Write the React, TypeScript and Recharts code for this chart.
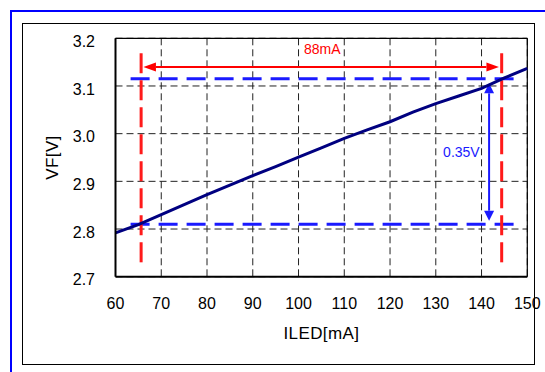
import { LineChart, Line, XAxis, YAxis, CartesianGrid, ReferenceLine, ReferenceDot } from 'recharts';

// measured forward voltage vs LED current
const currents = [60, 65, 70, 75, 80, 85, 90, 95, 100, 105, 110, 115, 120, 125, 130, 135, 140, 145, 150];
const voltages = [2.792, 2.809, 2.83, 2.851, 2.872, 2.892, 2.912, 2.931, 2.951, 2.97, 2.99, 3.008, 3.025, 3.045, 3.063, 3.079, 3.095, 3.117, 3.137];

const xTicks = [60, 70, 80, 90, 100, 110, 120, 130, 140, 150];
const yTicks = [2.7, 2.8, 2.9, 3.0, 3.1, 3.2];

// annotation positions (data units)
const currentRange = [65.6, 144.4];
const currentArrow = [66.1, 143.8];
const voltageLevels = [2.81, 3.115];
const voltageArrow = [2.8174, 3.1056];
const annotationLabels = ['88mA', '0.35V'];

const data = currents.map((c, i) => ({ iled: c, vf: voltages[i] }));

const FONT = '"Liberation Sans", Arial, sans-serif';

// line with an arrowhead on both ends
function doubleArrow(color: string, head: number, half: number) {
  return (p: any) => {
    const { x1, y1, x2, y2 } = p;
    const len = Math.hypot(x2 - x1, y2 - y1) || 1;
    const ux = (x2 - x1) / len;
    const uy = (y2 - y1) / len;
    const nx = -uy;
    const ny = ux;
    const tri = (tx: number, ty: number, dx: number, dy: number) => {
      const bx = tx - dx * head;
      const by = ty - dy * head;
      return `${tx},${ty} ${bx + nx * half},${by + ny * half} ${bx - nx * half},${by - ny * half}`;
    };
    return (
      <g>
        <line
          x1={x1 + ux * head}
          y1={y1 + uy * head}
          x2={x2 - ux * head}
          y2={y2 - uy * head}
          stroke={color}
          strokeWidth={2}
        />
        <polygon points={tri(x1, y1, -ux, -uy)} fill={color} />
        <polygon points={tri(x2, y2, ux, uy)} fill={color} />
      </g>
    );
  };
}

export default function App() {
  return (
    <div
      style={{
        position: 'absolute',
        left: 8,
        top: 8,
        width: 537,
        height: 364,
        overflow: 'hidden',
        background: '#fff',
        fontFamily: FONT,
      }}
    >
      {/* outer blue frame */}
      <div style={{ position: 'absolute', left: 2, top: 2, width: 600, height: 420, border: '2px solid #0000ff' }} />
      {/* chart area frame */}
      <div
        style={{
          position: 'absolute',
          left: 13.7,
          top: 14.7,
          width: 513.3,
          height: 342.3,
          boxSizing: 'border-box',
          border: '1.6px solid #000',
        }}
      />
      <div style={{ position: 'absolute', left: 0, top: 0 }}>
        <LineChart width={537} height={364} data={data} margin={{ top: 30.3, right: 17.7, bottom: 25.3, left: 0 }}>
          <CartesianGrid stroke="#222" strokeDasharray="7 4" strokeWidth={1} />
          <XAxis
            dataKey="iled"
            type="number"
            domain={[60, 150]}
            ticks={xTicks}
            height={70}
            tickLine={false}
            tickSize={0}
            tickMargin={21}
            axisLine={{ stroke: '#000', strokeWidth: 2 }}
            tick={{ fill: '#000', fontSize: 16, fontFamily: FONT }}
            label={{
              value: 'ILED[mA]',
              position: 'insideBottom',
              offset: 7.4,
              fill: '#000',
              fontSize: 17,
              fontFamily: FONT,
              style: { letterSpacing: 0.4 },
            }}
          />
          <YAxis
            type="number"
            domain={[2.7, 3.2]}
            ticks={yTicks}
            width={107.5}
            tickLine={false}
            tickSize={0}
            tickMargin={20.5}
            axisLine={{ stroke: '#000', strokeWidth: 2 }}
            tick={{ fill: '#000', fontSize: 16, fontFamily: FONT, dy: 3 }}
            tickFormatter={(v: number) => v.toFixed(1)}
            label={{
              value: 'VF[V]',
              angle: -90,
              position: 'center',
              dx: -10,
              fill: '#000',
              fontSize: 17,
              fontFamily: FONT,
              style: { letterSpacing: 0.4 },
            }}
          />
          {/* top and right plot border */}
          <ReferenceLine y={3.2} stroke="#000" strokeWidth={1.2} />
          <ReferenceLine x={150} stroke="#000" strokeWidth={1.2} />

          {/* voltage levels */}
          {voltageLevels.map(v => (
            <ReferenceLine
              key={'v' + v}
              segment={[{ x: 63.3, y: v }, { x: 147.1, y: v }]}
              stroke="#1a1aff"
              strokeWidth={3}
              strokeDasharray="19 9"
            />
          ))}
          {/* current range */}
          {currentRange.map(c => (
            <ReferenceLine
              key={'c' + c}
              segment={[{ x: c, y: 3.1685 }, { x: c, y: 2.727 }]}
              stroke="#ff1a1a"
              strokeWidth={3}
              strokeDasharray="20 7"
            />
          ))}

          <ReferenceLine
            segment={[{ x: currentArrow[0], y: 3.14 }, { x: currentArrow[1], y: 3.14 }]}
            shape={doubleArrow('#ff0000', 12.5, 4.5)}
          />
          <ReferenceLine
            segment={[{ x: 141.65, y: voltageArrow[1] }, { x: 141.65, y: voltageArrow[0] }]}
            shape={doubleArrow('#1a1aff', 10, 5)}
          />

          <Line
            dataKey="vf"
            type="linear"
            stroke="#000080"
            strokeWidth={3}
            dot={false}
            isAnimationActive={false}
          />

          <ReferenceDot
            x={105.2}
            y={3.1664}
            shape={(p: any) => (
              <text x={p.cx} y={p.cy} textAnchor="middle" fill="#ff0000" fontSize={14} fontFamily={FONT}>
                {annotationLabels[0]}
              </text>
            )}
          />
          <ReferenceDot
            x={139.6}
            y={2.9504}
            shape={(p: any) => (
              <text x={p.cx} y={p.cy} textAnchor="end" fill="#1a1aff" fontSize={14} fontFamily={FONT}>
                {annotationLabels[1]}
              </text>
            )}
          />
        </LineChart>
      </div>
    </div>
  );
}
